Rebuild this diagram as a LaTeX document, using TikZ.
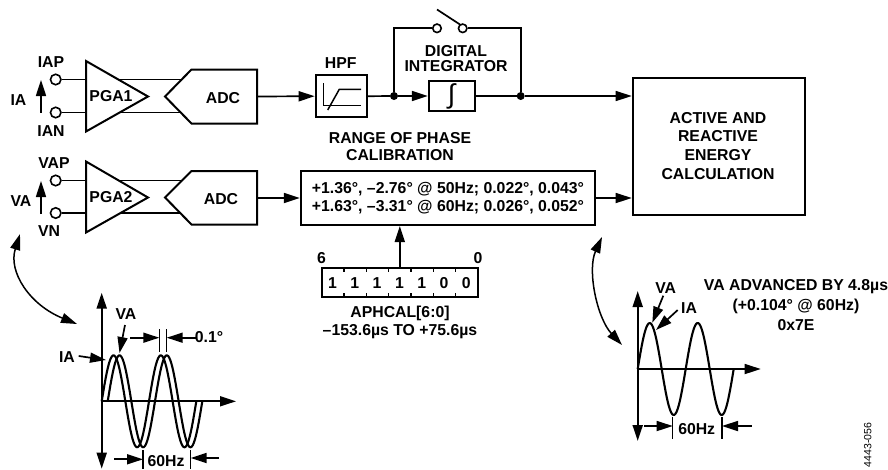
\documentclass[tikz,border=0pt]{standalone}
\usepackage{fontspec}
\setmainfont{Liberation Sans}
\usetikzlibrary{arrows.meta}
\tikzset{
  wire/.style={line width=1.7pt,line join=miter},
  heavy/.style={line width=2pt},
  flow/.style={wire,-{Triangle[length=16pt,width=10pt]},shorten >=0pt},
  flowboth/.style={line width=1.5pt,{Triangle[length=16pt,width=10pt]}-{Triangle[length=16pt,width=10pt]}},
  blk/.style={draw,heavy,inner sep=0pt,fill=white},
  lbl/.style={font=\fontsize{15.8}{17}\selectfont\bfseries,inner sep=0pt},
  term/.style={circle,draw,line width=1.6pt,minimum size=10.5pt,inner sep=0pt,fill=white},
  sw/.style={circle,draw,line width=1.6pt,minimum size=8.5pt,inner sep=0pt,fill=white},
  junct/.style={circle,fill=black,minimum size=8pt,inner sep=0pt},
  wave/.style={line width=2.1pt,line join=round}
}
\begin{document}
\begin{tikzpicture}[x=1pt,y=-1pt]
\useasboundingbox (0,0) rectangle (888,469);
% front end wires (drawn beneath the amplifiers)
\coordinate (pa1) at (86,79.5);
\coordinate (pa2) at (86,112.5);
\coordinate (qa1) at (183,79.5);
\coordinate (qa2) at (183,112.5);
\coordinate (pb1) at (86,180.5);
\coordinate (pb2) at (86,213);
\coordinate (qb1) at (183,180.5);
\coordinate (qb2) at (183,213);
\draw[wire] (pa1) -- (qa1);
\draw[wire] (pa2) -- (qa2);
\draw[wire] (pb1) -- (qb1);
\draw[wire] (pb2) -- (qb2);
% terminals
\node[term] (iap) at (55.7,79.5) {};
\node[term] (ian) at (55.7,112.5) {};
\node[term] (vap) at (55.7,180.5) {};
\node[term] (vn) at (55.7,213) {};
\draw[wire] (iap) -- (pa1);
\draw[wire] (ian) -- (pa2);
\draw[wire] (vap) -- (pb1);
\draw[wire] (vn) -- (pb2);
\node[lbl] (liap) at (51,62) {IAP};
\node[lbl] (lian) at (51,131) {IAN};
\node[lbl] (lvap) at (54,163.5) {VAP};
\node[lbl] (lvn) at (49,231.5) {VN};
\node[lbl] (lia) at (18.5,100.5) {IA};
\node[lbl] (lva) at (21,201.5) {VA};
\coordinate (ia0) at (41,112.5);
\coordinate (ia1) at (41,80);
\coordinate (va0) at (41,214);
\coordinate (va1) at (41,181);
\draw[flow] (ia0) -- (ia1);
\draw[flow] (va0) -- (va1);
% amplifiers
\draw[heavy,fill=white,line join=miter] (86,61) -- (148,96.5) -- (86,131.5) -- cycle;
\draw[heavy,fill=white,line join=miter] (86,161.5) -- (148,197.5) -- (86,232.5) -- cycle;
\node[lbl] (pga1) at (111,96) {PGA1};
\node[lbl] (pga2) at (111,197) {PGA2};
% converters
\draw[heavy,fill=white,line join=miter] (165,96.5) -- (191.5,69.5) -- (257,69.5) -- (257,123.5) -- (191.5,123.5) -- cycle;
\draw[heavy,fill=white,line join=miter] (165,197.5) -- (191.5,171) -- (257,171) -- (257,224.5) -- (191.5,224.5) -- cycle;
\node[lbl] (adc1) at (223,98.5) {ADC};
\node[lbl] (adc2) at (221,199.5) {ADC};
\coordinate (adc1o) at (257,96.5);
\coordinate (adc2o) at (257,198);
% upper chain
\node[blk,minimum width=51pt,minimum height=42pt] (hpf) at (341.2,96.2) {};
\node[lbl] (lhpf) at (340.7,63.5) {HPF};
\draw[line width=1.5pt] (323.3,83.3) -- (323.3,105.3) -- (361,105.3);
\draw[line width=1.5pt] (327.7,110) -- (339.3,89.3) -- (361,89.3);
\node[junct] (j1) at (394,96) {};
\node[blk,minimum width=46pt,minimum height=30.5pt] (intg) at (451.8,96) {};
\node[font=\fontsize{27}{27}\selectfont,inner sep=0pt] (intsym) at (451.5,96) {∫};
\node[junct] (j2) at (520.7,96) {};
\node[blk,minimum width=172.6pt,minimum height=137.3pt,anchor=north west] (act) at (631.7,76.7) {};
\draw[flow] (adc1o) -- (hpf.west);
\draw[wire] (hpf.east) -- (j1);
\draw[flow] (j1) -- (intg.west);
\draw[wire] (intg.east) -- (j2);
\draw[flow] (j2) -- (act.west |- j2);
% bypass with switch
\node[sw] (s1) at (437,28.3) {};
\node[sw] (s2) at (462.7,28.3) {};
\coordinate (sw0) at (437,9.5);
\coordinate (sw1) at (460,24.5);
\draw[wire] (sw0) -- (sw1);
\draw[wire] (j1) |- (s1);
\draw[wire] (j2) |- (s2);
\node[lbl] (ldi) at (456,50.7) {DIGITAL};
\node[lbl] (lint) at (456,66.5) {INTEGRATOR};
% phase calibration
\node[lbl] (lr1) at (400,138) {RANGE OF PHASE};
\node[lbl] (lr2) at (400,154.7) {CALIBRATION};
\node[blk,minimum width=294pt,minimum height=54pt] (cal) at (447.8,198) {};
\node[lbl] (calt1) at (448,189) {+1.36°, –2.76° @ 50Hz; 0.022°, 0.043°};
\node[lbl] (calt2) at (448,207) {+1.63°, –3.31° @ 60Hz; 0.026°, 0.052°};
\draw[flow] (adc2o) -- (cal.west |- adc2o);
\draw[flow] (cal.east) -- (act.west |- cal.east);
\node[lbl] (lact1) at (718,117.7) {ACTIVE AND};
\node[lbl] (lact2) at (718,135.7) {REACTIVE};
\node[lbl] (lact3) at (718,154.7) {ENERGY};
\node[lbl] (lact4) at (718,173.7) {CALCULATION};
% register
\node[blk,minimum width=156.3pt,minimum height=29pt] (reg) at (399.8,282.2) {};
\foreach \i in {1,...,6}{
  \pgfmathsetmacro{\tx}{321.7+\i*22.33}
  \draw[line width=1.3pt] (\tx,267.7) -- (\tx,271.7);
  \draw[line width=1.3pt] (\tx,296.7) -- (\tx,292.7);
}
\foreach \i/\d in {0/1,1/1,2/1,3/1,4/1,5/0,6/0}{
  \pgfmathsetmacro{\tx}{332.4+\i*22.33}
  \node[lbl] at (\tx,282.7) {\d};
}
\draw[flow] (reg.north) -- (reg.north |- cal.south);
\node[lbl] (l6) at (321.5,258) {6};
\node[lbl] (l0) at (478,258) {0};
\node[lbl] (lreg) at (400,313) {APHCAL[6:0]};
\node[lbl] (lrng) at (400,332) {–153.6µs TO +75.6µs};
% curved links
\coordinate (cl0) at (20,234);
\coordinate (cl1) at (77,324);
\coordinate (cr0) at (602,237);
\coordinate (cr1) at (622,345);
\draw[flowboth] (cl0) .. controls (8,272) and (30,305) .. (cl1);
\draw[flowboth] (cr0) .. controls (587,270) and (597,318) .. (cr1);
% left plot
\coordinate (ly0) at (101.7,292.7);
\coordinate (ly1) at (101.7,468.7);
\coordinate (lx0) at (101.7,401.3);
\coordinate (lx1) at (236,401.3);
\draw[wave] plot[domain=0:360,samples=90,smooth] ({101.7+\x/360*94.6},{401.3-46*sin(2*\x)});
\draw[wave] plot[domain=0:360,samples=90,smooth] ({107.7+\x/360*94.6},{401.3-46*sin(2*\x)});
\draw[flowboth,line width=2pt] (ly0) -- (ly1);
\draw[flow] (lx0) -- (lx1);
\node[lbl] (lva2) at (126,314) {VA};
\node[lbl] (lia2) at (67,357) {IA};
\coordinate (a1) at (125,325);
\coordinate (a2) at (119.5,353);
\coordinate (a3) at (78.7,356);
\coordinate (a4) at (106,360);
\draw[flow] (a1) -- (a2);
\draw[flow] (a3) -- (a4);
\coordinate (t1a) at (159.3,329);
\coordinate (t1b) at (159.3,351.7);
\coordinate (t2a) at (166.7,329);
\coordinate (t2b) at (166.7,351.7);
\draw[line width=1.2pt] (t1a) -- (t1b);
\draw[line width=1.2pt] (t2a) -- (t2b);
\node[lbl] (l01) at (209,337) {0.1°};
\coordinate (b1) at (130,337.7);
\coordinate (b2) at (159.3,337.7);
\coordinate (b3) at (196,337.7);
\coordinate (b4) at (166.7,337.7);
\draw[flow] (b1) -- (b2);
\draw[flow] (b3) -- (b4);
\coordinate (t3a) at (143,450);
\coordinate (t3b) at (143,469);
\coordinate (t4a) at (190.7,450);
\coordinate (t4b) at (190.7,469);
\draw[line width=1.2pt] (t3a) -- (t3b);
\draw[line width=1.2pt] (t4a) -- (t4b);
\node[lbl] (l60a) at (166,461.5) {60Hz};
\coordinate (c1) at (114,459.3);
\coordinate (c2) at (143,459.3);
\coordinate (c3) at (219,458);
\coordinate (c4) at (190.7,458);
\draw[flow] (c1) -- (c2);
\draw[flow] (c3) -- (c4);
% right plot
\coordinate (ry0) at (637.7,291);
\coordinate (ry1) at (637.7,441);
\coordinate (rx0) at (637.7,369);
\coordinate (rx1) at (760.7,369);
\draw[wave] plot[domain=0:360,samples=90,smooth] ({637.7+\x/360*96},{369-46*sin(2*\x)});
\draw[flowboth,line width=2pt] (ry0) -- (ry1);
\draw[flow] (rx0) -- (rx1);
\node[lbl] (rva) at (665.7,288) {VA};
\node[lbl] (ria) at (689,308) {IA};
\coordinate (d1) at (663.3,295.7);
\coordinate (d2) at (652.3,322.7);
\coordinate (d3) at (677.7,310);
\coordinate (d4) at (656,330);
\draw[flow] (d1) -- (d2);
\draw[flow] (d3) -- (d4);
\node[lbl] (ra1) at (796,287) {VA ADVANCED BY 4.8µs};
\node[lbl] (ra2) at (796,306) {(+0.104° @ 60Hz)};
\node[lbl] (ra3) at (796,325) {0x7E};
\coordinate (t5a) at (672.7,416.7);
\coordinate (t5b) at (672.7,439);
\coordinate (t6a) at (722,416.7);
\coordinate (t6b) at (722,439);
\draw[line width=1.2pt] (t5a) -- (t5b);
\draw[line width=1.2pt] (t6a) -- (t6b);
\node[lbl] (l60b) at (696.7,429.5) {60Hz};
\coordinate (e1) at (644,426);
\coordinate (e2) at (672.7,426);
\coordinate (e3) at (751.7,426);
\coordinate (e4) at (722,426);
\draw[flow] (e1) -- (e2);
\draw[flow] (e3) -- (e4);
\node[font=\fontsize{10.5}{12}\selectfont,inner sep=0pt,rotate=90] (code) at (867.7,445) {4443-056};
\end{tikzpicture}
\end{document}
